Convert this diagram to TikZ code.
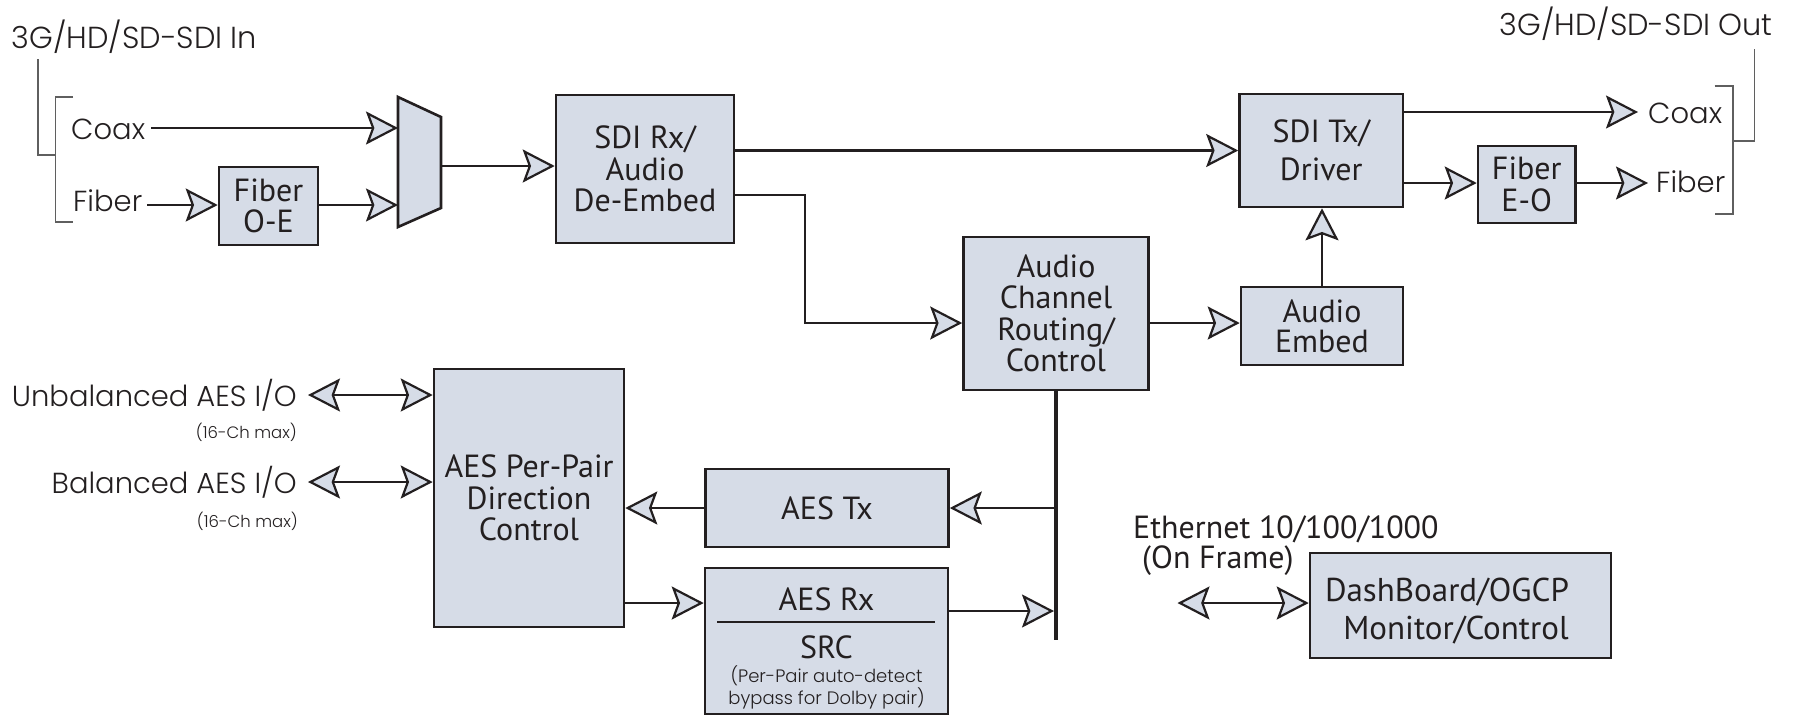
\documentclass[tikz,border=0pt]{standalone}
\usepackage{fontspec}
\setmainfont{PT Sans}
\IfFontExistsTF{Poppins Light}{\newfontfamily\lblfamily{Poppins Light}}{\newfontfamily\lblfamily{Poppins}}
\usetikzlibrary{arrows.meta,calc}
\definecolor{boxfill}{RGB}{214,220,231}
\definecolor{ink}{RGB}{35,31,32}
\definecolor{brk}{RGB}{95,95,95}
\newcommand\bxf{\fontsize{32}{31.5}\selectfont}
\newcommand\lblf{\lblfamily\fontsize{29}{31}\selectfont}
\newcommand\lbltf{\lblfamily\fontsize{30.4}{31}\selectfont}
\newcommand\lblsf{\lblfamily\fontsize{16.5}{22}\selectfont}
\newcommand\lblnf{\lblfamily\fontsize{18}{22}\selectfont}
\tikzset{
  box/.style={draw=ink, fill=boxfill, line width=2.6pt, align=center, inner sep=0pt, font=\bxf, text=ink},
  conn/.style={draw=ink, line width=2.6pt},
  bus/.style={draw=ink, line width=4.5pt},
  brack/.style={draw=brk, line width=1.5pt},
  lbl/.style={font=\lblf, inner sep=0pt, text=ink},
  lblt/.style={font=\lbltf, inner sep=0pt, text=ink},
  lbls/.style={font=\lblsf, inner sep=0pt, text=ink},
  btxt/.style={font=\bxf, inner sep=0pt, text=ink, align=center},
  >={Stealth[length=32pt, width=33pt, inset=6pt, fill=boxfill, line width=2.2pt]},
}
\begin{document}
\begin{tikzpicture}[x=1pt, y=-1pt]
\useasboundingbox (0,0) rectangle (1794,716);

% ---------- outer labels ----------
\node[lblt, anchor=base west] (inttl) at (11.5,48) {3G/HD/SD-SDI In};
\node[lblt, anchor=base east] (outttl) at (1773,35) {3G/HD/SD-SDI Out};
\node[lbl, anchor=base west] (coaxin) at (71,139) {Coax};
\node[lbl, anchor=base west] (fiberin) at (73,211) {Fiber};
\node[lbl, anchor=base west] (coaxout) at (1648,123) {Coax};
\node[lbl, anchor=base west] (fiberout) at (1656,192) {Fiber};
\node[lbl, anchor=base east] (unbal) at (297,406) {Unbalanced AES I/O};
\node[lbls, anchor=base east] (unbalmax) at (297,438) {(16-Ch max)};
\node[lbl, anchor=base east] (bal) at (297,493) {Balanced AES I/O};
\node[lbls, anchor=base east] (balmax) at (298,527) {(16-Ch max)};
\node[btxt, anchor=base west] (eth) at (1133,538) {Ethernet 10/100/1000};
\node[btxt, anchor=base west] (onfr) at (1142,568) {(On Frame)};

% ---------- brackets ----------
\draw[brack] (38,59) -- (38,155) -- (55.5,155);
\draw[brack] (73,97) -- (55.5,97) -- (55.5,222) -- (73,222);
\draw[brack] (1754.5,49) -- (1754.5,141) -- (1733,141);
\draw[brack] (1714.5,86) -- (1733,86) -- (1733,214) -- (1714.5,214);

% ---------- boxes ----------
\node[box, minimum width=99pt, minimum height=78pt] (foe) at (268.5,206) {Fiber\\O-E};
\coordinate (muxtl) at (398,97);
\coordinate (muxtr) at (441,117);
\coordinate (muxbr) at (441,208);
\coordinate (muxbl) at (398,227);
\draw[draw=ink, fill=boxfill, line width=2.6pt, line join=miter] (muxtl) -- (muxtr) -- (muxbr) -- (muxbl) -- cycle;
\coordinate (m1) at (398,128);
\coordinate (m2) at (398,205);
\coordinate (mo) at (441,166);

\node[box, minimum width=178pt, minimum height=148pt] (sdirx) at (645,169) {SDI Rx/\\Audio\\De-Embed};
\node[box, minimum width=163.5pt, minimum height=113pt] (sditx) at (1321.25,150.5) {SDI Tx/\\[7pt]Driver};
\node[box, minimum width=97.5pt, minimum height=77pt] (feo) at (1526.75,184.5) {Fiber\\E-O};
\node[box, minimum width=185pt, minimum height=153pt] (ach) at (1056,313.5) {Audio\\Channel\\Routing/\\Control};
\node[box, minimum width=162pt, minimum height=78pt, font=\fontsize{32}{30}\selectfont] (aemb) at (1322,326) {Audio\\Embed};
\node[box, minimum width=190pt, minimum height=258pt] (aespp) at (529,498) {AES Per-Pair\\Direction\\Control};
\node[box, minimum width=243pt, minimum height=78pt] (aestx) at (827,508) {AES Tx};
\node[box, minimum width=243pt, minimum height=146pt] (aesrx) at (826.5,641) {};
\node[btxt] (aesrxt) at (826.5,599) {AES Rx};
\draw[draw=ink, line width=1.3pt] (717,622) -- (935,622);
\node[btxt] (srct) at (826.5,647) {SRC};
\node[font=\lblnf, inner sep=0pt, text=ink, align=center] (srcnote) at (826.5,687) {(Per-Pair auto-detect\\bypass for Dolby pair)};
\node[box, minimum width=301pt, minimum height=105pt] (dash) at (1460.5,605.5) {};
\node[btxt, font=\fontsize{33}{31.5}\selectfont] (dasht1) at (1447,592) {DashBoard/OGCP};
\node[btxt, font=\fontsize{33}{31.5}\selectfont] (dasht2) at (1456,630) {Monitor/Control};

% ---------- connectors ----------
\coordinate (cxs) at (151,128);
\draw[conn,->] (cxs) -- (m1);
\coordinate (fbs) at (147,205);
\draw[conn,->] (fbs) -- (foe.west |- fbs);
\draw[conn,->] (foe.east |- m2) -- (m2);
\draw[conn,->] (mo) -- (mo -| sdirx.west);
\draw[conn,->] (sdirx.east |- sditx.west) -- (sditx.west);
\coordinate (dv) at (805,195);
\coordinate (ay) at (0,323);
\draw[conn,->] (sdirx.east |- dv) -- (dv) |- (ach.west |- ay);
\draw[conn,->] (ach.east |- ay) -- (aemb.west |- ay);
\draw[conn,->] (aemb.north) -- (aemb.north |- sditx.south);
\coordinate (cxe) at (1638,112);
\draw[conn,->] (sditx.east |- cxe) -- (cxe);
\coordinate (fy) at (0,183);
\draw[conn,->] (sditx.east |- fy) -- (feo.west |- fy);
\coordinate (fbe) at (1648,183);
\draw[conn,->] (feo.east |- fbe) -- (fbe);

\coordinate (ua) at (308,395);
\draw[conn,<->] (ua) -- (aespp.west |- ua);
\coordinate (ba) at (308,482);
\draw[conn,<->] (ba) -- (aespp.west |- ba);

\coordinate (busend) at (1056,640);
\draw[bus] (ach.south) -- (busend);
\draw[conn,->] (busend |- aestx.east) -- (aestx.east);
\draw[conn,->] (aestx.west) -- (aestx.west -| aespp.east);
\coordinate (py) at (0,603);
\draw[conn,->] (aespp.east |- py) -- (aesrx.west |- py);
\coordinate (ry) at (0,611);
\draw[conn,->, shorten >=2pt] (aesrx.east |- ry) -- (busend |- ry);

\coordinate (ea) at (1177.5,603);
\draw[conn,<->] (ea) -- (dash.west |- ea);
\end{tikzpicture}
\end{document}
